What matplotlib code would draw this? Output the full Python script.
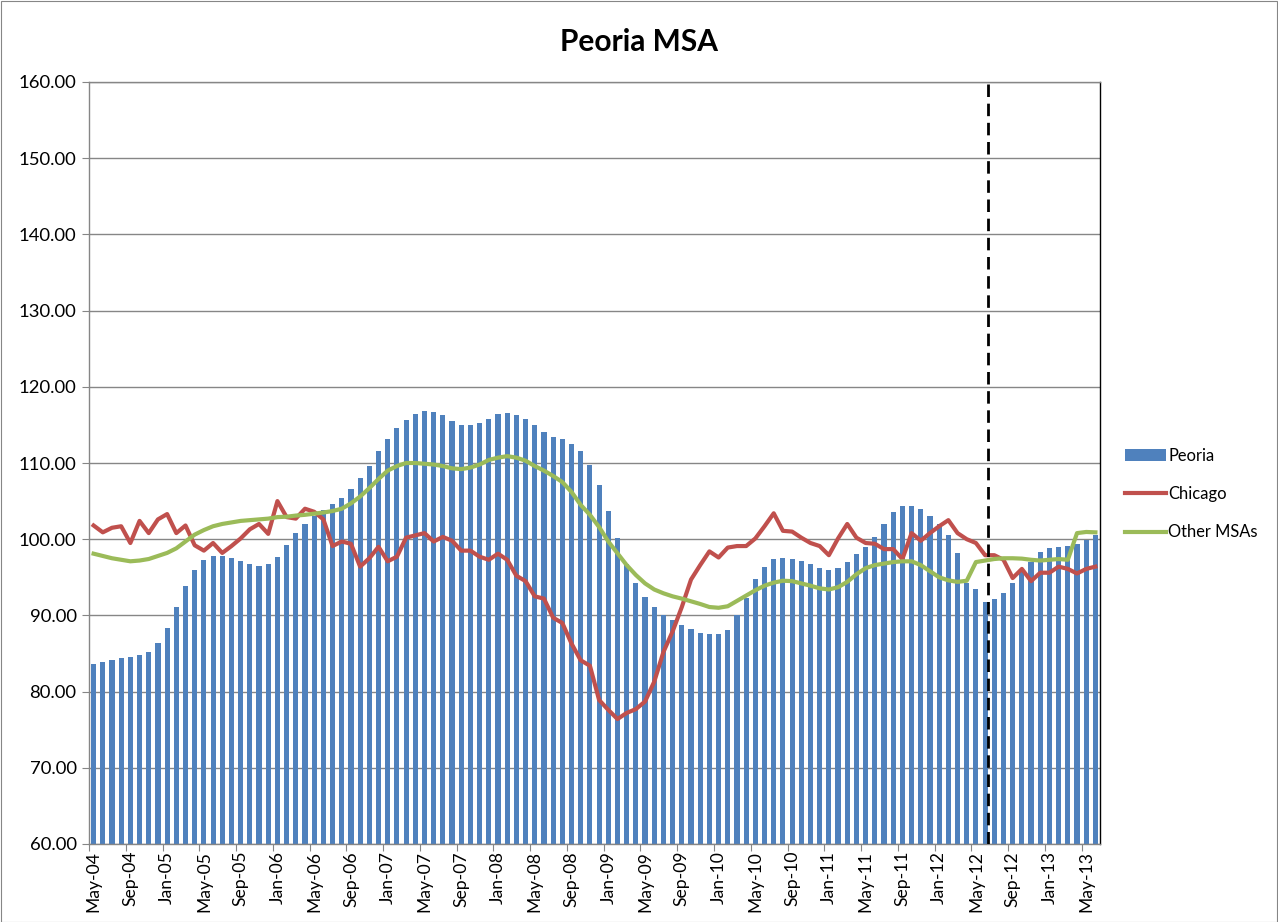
import matplotlib
matplotlib.use("Agg")
import matplotlib.pyplot as plt
import numpy as np
import pandas as pd
from matplotlib.patches import Patch, Rectangle
from matplotlib.lines import Line2D

plt.rcParams['font.family'] = ['Lato', 'DejaVu Sans']

months = list(pd.date_range('2004-05-01', periods=110, freq='MS').strftime('%b-%y'))

peoria = [83.6, 83.9, 84.2, 84.4, 84.5, 84.8, 85.2, 86.4, 88.4, 91.1,
          93.8, 96.0, 97.3, 97.8, 97.8, 97.5, 97.1, 96.7, 96.5, 96.8,
          97.7, 99.2, 100.8, 102.0, 103.1, 103.8, 104.6, 105.4, 106.6, 108.0,
          109.6, 111.6, 113.2, 114.6, 115.7, 116.4, 116.8, 116.7, 116.3, 115.5,
          115.0, 115.0, 115.2, 115.8, 116.4, 116.5, 116.3, 115.8, 115.0, 114.1,
          113.4, 113.1, 112.5, 111.6, 109.7, 107.1, 103.7, 100.2, 96.7, 94.3,
          92.4, 91.1, 90.1, 89.4, 88.7, 88.2, 87.7, 87.6, 87.5, 88.1,
          90.1, 92.3, 94.8, 96.4, 97.4, 97.5, 97.4, 97.2, 96.7, 96.2,
          95.9, 96.2, 97.0, 98.1, 99.0, 100.3, 102.0, 103.6, 104.4, 104.4,
          104.0, 103.1, 102.0, 100.6, 98.2, 94.3, 93.4, 91.7, 92.1, 92.9,
          94.2, 96.0, 97.0, 98.3, 98.8, 99.0, 99.1, 99.4, 99.9, 100.5]

chicago = [101.8, 100.9, 101.5, 101.7, 99.5, 102.4, 100.8, 102.6, 103.3, 100.8,
           101.8, 99.2, 98.5, 99.5, 98.2, 99.1, 100.1, 101.3, 102.0, 100.7,
           105.0, 102.9, 102.7, 104.0, 103.6, 102.6, 99.1, 99.7, 99.4, 96.4,
           97.5, 99.0, 97.1, 97.7, 100.2, 100.5, 100.8, 99.7, 100.3, 99.8,
           98.5, 98.5, 97.7, 97.3, 98.1, 97.3, 95.2, 94.5, 92.5, 92.2,
           89.7, 89.0, 86.3, 84.1, 83.4, 78.9, 77.6, 76.4, 77.2, 77.7,
           78.7, 81.3, 85.2, 87.9, 91.1, 94.7, 96.6, 98.4, 97.6, 98.9,
           99.1, 99.1, 100.1, 101.7, 103.4, 101.1, 101.0, 100.2, 99.5, 99.1,
           97.9, 100.1, 102.0, 100.2, 99.5, 99.4, 98.7, 98.7, 97.4, 100.8,
           99.8, 100.8, 101.7, 102.5, 100.8, 100.0, 99.5, 97.9, 97.9, 97.3,
           94.9, 96.1, 94.5, 95.6, 95.6, 96.4, 96.1, 95.5, 96.1, 96.4]

other = [98.1, 97.8, 97.5, 97.3, 97.1, 97.2, 97.4, 97.8, 98.2, 98.8,
         99.7, 100.6, 101.2, 101.7, 102.0, 102.2, 102.4, 102.5, 102.6, 102.7,
         102.9, 102.95, 103.1, 103.2, 103.35, 103.5, 103.7, 104.0, 104.7, 105.6,
         106.7, 107.9, 109.0, 109.6, 110.0, 110.0, 109.9, 109.8, 109.6, 109.3,
         109.2, 109.4, 109.8, 110.4, 110.7, 110.9, 110.7, 110.3, 109.6, 109.0,
         108.3, 107.5, 106.2, 104.5, 103.2, 101.6, 99.7, 98.15, 96.6, 95.3,
         94.2, 93.4, 92.9, 92.5, 92.2, 91.85, 91.5, 91.1, 91.0, 91.2,
         91.9, 92.6, 93.3, 93.9, 94.3, 94.55, 94.5, 94.2, 93.9, 93.55,
         93.4, 93.7, 94.4, 95.4, 96.2, 96.6, 96.8, 97.0, 97.1, 97.1,
         96.6, 95.8, 95.0, 94.6, 94.4, 94.55, 97.0, 97.2, 97.4, 97.5,
         97.5, 97.45, 97.3, 97.2, 97.3, 97.4, 97.3, 100.8, 100.95, 100.9]

series_names = ['Peoria', 'Chicago', 'Other MSAs']
colors = ['#4F81BD', '#C0504D', '#9BBB59']
yticks = [60, 70, 80, 90, 100, 110, 120, 130, 140, 150, 160]
forecast_start = 'Jul-12'

W, H = 1278, 922
fig = plt.figure(figsize=(W / 100, H / 100), dpi=100)
fig.patches.append(Rectangle((0.5 / W, 0.5 / H), 1 - 1.5 / W, 1 - 1.5 / H,
                             transform=fig.transFigure, fill=False,
                             edgecolor='#868686', linewidth=0.8))

ax = fig.add_axes([89 / W, 1 - 844 / H, (1100 - 89) / W, (844 - 82) / H])
x = np.arange(len(months))

ax.bar(x, peoria, width=0.56, color=colors[0], zorder=2)
ax.plot(x, chicago, color=colors[1], lw=3.0, zorder=3, solid_joinstyle='round')
ax.plot(x, other, color=colors[2], lw=3.0, zorder=3, solid_joinstyle='round')

fx = months.index(forecast_start) - 0.5
ax.axvline(fx - 0.15, color='black', lw=2.0, dashes=(4.5, 2.4), zorder=4)

ax.set_xlim(-0.5, len(months) - 0.5)
ax.set_ylim(60, 160)
ax.set_yticks(yticks)
ax.set_yticklabels([f'{v:.2f}' for v in yticks], fontsize=13.3)
ax.yaxis.grid(True, color='#868686', lw=1.0, zorder=0)
ax.set_axisbelow(True)

ax.set_xticks(np.arange(-0.5, len(months), 4))
ax.set_xticklabels([])
ax.set_xticks(x[::4], minor=True)
ax.set_xticklabels(months[::4], minor=True, rotation=90, fontsize=12.6)
ax.tick_params(axis='x', which='major', length=5, color='#868686', direction='out')
ax.tick_params(axis='x', which='minor', length=0, pad=5)
ax.tick_params(axis='y', length=5, color='#868686', direction='out', pad=4)

for s in ['left', 'bottom', 'top']:
    ax.spines[s].set_color('#868686')
    ax.spines[s].set_linewidth(1.0)
ax.spines['right'].set_color('black')
ax.spines['right'].set_linewidth(1.0)

fig.text(0.5, 1 - 42 / H, 'Peoria MSA', ha='center', va='center',
         fontsize=21.5, fontweight='bold')

handles = [Patch(facecolor=colors[0]),
           Line2D([], [], color=colors[1], lw=3.0),
           Line2D([], [], color=colors[2], lw=3.0)]
fig.legend(handles, series_names, loc='center left',
           bbox_to_anchor=(1118 / W, 1 - 494 / H), frameon=False,
           fontsize=11.9, handlelength=2.5, handletextpad=0.15,
           labelspacing=1.35, borderaxespad=0)

fig.savefig('out.png', dpi=100)
